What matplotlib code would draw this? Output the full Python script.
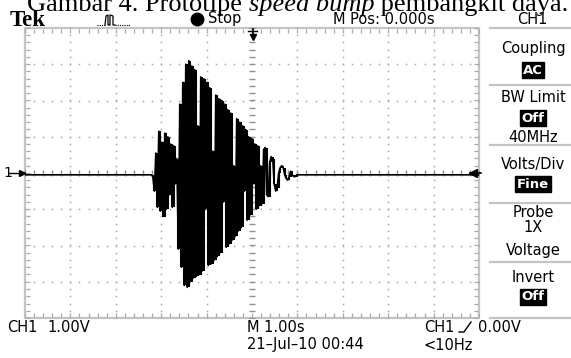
import numpy as np
import matplotlib.pyplot as plt
from matplotlib.lines import Line2D
from matplotlib.patches import Rectangle

plt.rcParams['path.simplify'] = False

# CH1 trace (volts), one sample every 0.033 s starting at t = -2.25 s
burst_start = -2.25
burst_step = 0.033
burst_v = [-0.05, -0.05, -0.1, -0.5, 0.55, -0.95, 1.15, -1.05, 0.85, -1.2,
           1.1, -1.0, 1.0, -0.6, 0.8, -0.95, 0.75, -0.3, 0.4, -2.1,
           1.9, -2.6, 2.5, -3.1, 3.0, -3.15, 3.1, -3.0, 2.95, -2.9,
           2.85, -2.85, 1.3, -2.8, 2.65, -2.7, 2.6, -1.0, 2.5, -2.55,
           2.35, -2.5, 0.6, -2.4, 2.15, -2.3, 2.05, -2.2, 2.0, -0.8,
           1.9, -2.05, 1.75, -1.95, 1.65, -1.85, 0.2, -1.75, 1.5, -1.6,
           1.4, -1.5, 1.3, -0.5, 1.2, -1.3, 1.0, -1.15, 0.95, -0.3,
           0.8, -1.0, 0.75, -0.9, 0.2, -0.85, 0.65, 0.7, -0.6, -0.65,
           0.3, 0.45, 0.4, -0.3, -0.5, -0.4, 0.0, 0.15, 0.2, 0.15,
           -0.05, -0.15, -0.2, -0.1, 0.05, -0.05, -0.1, -0.1, -0.05, -0.05]
baseline_v = -0.05

# screen readouts
top_labels = ["M Pos: 0.000s", "CH1"]
bottom_labels = ["CH1", "1.00V", "M 1.00s", "21\u2013Jul\u201310 00:44", "CH1", "0.00V", "<10Hz"]
menu_labels = ["Coupling", "BW Limit", "40MHz", "Volts/Div", "Probe", "1X", "Voltage", "Invert"]
menu_boxes = ["AC", "Off", "Fine", "Off"]

W, H = 571, 358


def fx(x):
    return x / W


def fy(y):
    return 1 - y / H


fig = plt.figure(figsize=(W / 100, H / 100), dpi=100)
fig.patch.set_facecolor('white')

ax = fig.add_axes([25 / W, 40 / H, 454 / W, 290 / H])
ax.set_xlim(-5, 5)
ax.set_ylim(-4, 4)
ax.axis('off')

grid_col = '#a8a8a8'
xs = np.arange(-5, 5.001, 0.2)
ys = np.arange(-4, 4.001, 0.2)

# dotted graticule
for gx in range(-4, 5):
    if gx != 0:
        ax.plot(np.full(len(ys), gx), ys, ls='none', marker='s', ms=1.1, mew=0, color=grid_col)
for gy in range(-3, 4):
    if gy != 0:
        ax.plot(xs, np.full(len(xs), gy), ls='none', marker='s', ms=1.1, mew=0, color=grid_col)

# centre cross with minor ticks
ax.plot(np.zeros(len(ys)), ys, ls='none', marker='_', ms=4, mew=1, color='#909090')
ax.plot(xs, np.zeros(len(xs)), ls='none', marker='|', ms=4, mew=1, color='#909090')

# border and its ticks
ax.add_patch(Rectangle((-5, -4), 10, 8, fill=False, ec='#c4c4c4', lw=1.6, clip_on=False))
ax.plot(xs, np.full(len(xs), 3.93), ls='none', marker='|', ms=3, mew=0.9, color=grid_col)
ax.plot(xs, np.full(len(xs), -3.93), ls='none', marker='|', ms=3, mew=0.9, color=grid_col)
ax.plot(np.full(len(ys), -4.93), ys, ls='none', marker='_', ms=3, mew=0.9, color=grid_col)
ax.plot(np.full(len(ys), 4.93), ys, ls='none', marker='_', ms=3, mew=0.9, color=grid_col)

# trace: flat line plus one vertical stroke per sample column, like the scope display
t_burst = burst_start + burst_step * np.arange(len(burst_v))
t = np.concatenate([[-5.0], t_burst, [5.0]])
v = np.concatenate([[baseline_v], burst_v, [baseline_v]])
ax.plot(t, v, color='black', lw=1.2)
ax.vlines(t[1:], np.minimum(v[:-1], v[1:]), np.maximum(v[:-1], v[1:]), color='black', lw=1.5)

# markers: trigger position, trigger level, channel ground
ax.plot([0.02, 0.02], [3.97, 3.8], color='black', lw=1.2, clip_on=False)
ax.plot([-0.08, 0.12], [3.93, 3.93], color='black', lw=1.0, clip_on=False)
ax.plot(0.02, 3.76, marker='v', ms=5, color='black', clip_on=False)
ax.plot([4.8, 5.05], [0, 0], color='black', lw=1.2, clip_on=False)
ax.plot(4.86, 0, marker='<', ms=6, color='black', clip_on=False)
ax.plot([-5.35, -5.0], [0, 0], color='black', lw=1.0, clip_on=False)
ax.plot(-5.07, 0, marker='>', ms=5, color='black', clip_on=False)
fig.text(fx(3), fy(173), "1", fontsize=10, va='center', ha='left')

# caption (cut off at the top)
c1 = fig.text(fx(27), fy(11), "Gambar 4. Prototipe ", family='Liberation Serif',
              fontsize=19, va='baseline', ha='left')
c2 = ax.annotate("speed bump", xy=(1, 0), xycoords=c1, family='Liberation Serif',
                 style='italic', fontsize=19, va='bottom', ha='left', annotation_clip=False)
ax.annotate(" pembangkit daya.", xy=(1, 0), xycoords=c2, family='Liberation Serif',
            fontsize=19, va='bottom', ha='left', annotation_clip=False)

# top readout row
fig.text(fx(10), fy(26), "Tek", family='Liberation Serif', weight='bold', fontsize=16.5,
         va='baseline', ha='left')
fig.add_artist(Line2D([fx(97), fx(105)], [fy(25), fy(25)], color='black', lw=0.8, ls=(0, (1, 1))))
fig.add_artist(Line2D([fx(105), fx(106), fx(108), fx(108), fx(110), fx(110), fx(113), fx(113), fx(115)],
                      [fy(25), fy(16), fy(15), fy(25), fy(25), fy(15), fy(16), fy(25), fy(25)],
                      color='black', lw=0.9))
fig.add_artist(Line2D([fx(115), fx(130)], [fy(25), fy(25)], color='black', lw=0.8, ls=(0, (1, 1))))
fig.add_artist(Line2D([fx(197)], [fy(19)], marker='o', ms=9, color='black'))
fig.text(fx(208), fy(19), "Stop", fontsize=10.5, va='center', ha='left')
fig.text(fx(333), fy(19), top_labels[0], fontsize=10.5, va='center', ha='left')
fig.text(fx(532), fy(19), top_labels[1], fontsize=10.5, va='center', ha='center')

# bottom readout rows
fig.text(fx(7), fy(327), bottom_labels[0], fontsize=10.5, va='center', ha='left')
fig.text(fx(47), fy(327), bottom_labels[1], fontsize=10.5, va='center', ha='left')
fig.text(fx(247), fy(327), bottom_labels[2], fontsize=10.5, va='center', ha='left')
fig.text(fx(247), fy(345), bottom_labels[3], fontsize=10.5, va='center', ha='left')
fig.text(fx(424), fy(327), bottom_labels[4], fontsize=10.5, va='center', ha='left')
fig.add_artist(Line2D([fx(459), fx(464), fx(471)], [fy(332), fy(332), fy(322)], color='black', lw=1.0))
fig.text(fx(478), fy(327), bottom_labels[5], fontsize=10.5, va='center', ha='left')
fig.text(fx(424), fy(345), bottom_labels[6], fontsize=10.5, va='center', ha='left')

# side menu
for y in [28, 85, 145, 203, 262, 318]:
    fig.add_artist(Line2D([fx(490), fx(571)], [fy(y), fy(y)], color='#c4c4c4', lw=1.6))

menu_y = [48, 98, 137, 165, 213, 228, 250, 278]
for lab, y in zip(menu_labels, menu_y):
    fig.text(fx(533), fy(y), lab, fontsize=10.5, va='center', ha='center')

box_y = [70, 118, 184, 297]
for lab, y in zip(menu_boxes, box_y):
    fig.text(fx(533), fy(y), lab, fontsize=9.5, weight='bold', color='white', va='center',
             ha='center', bbox=dict(facecolor='black', edgecolor='black', pad=1.0))

fig.savefig('out.png', dpi=100, facecolor='white')
